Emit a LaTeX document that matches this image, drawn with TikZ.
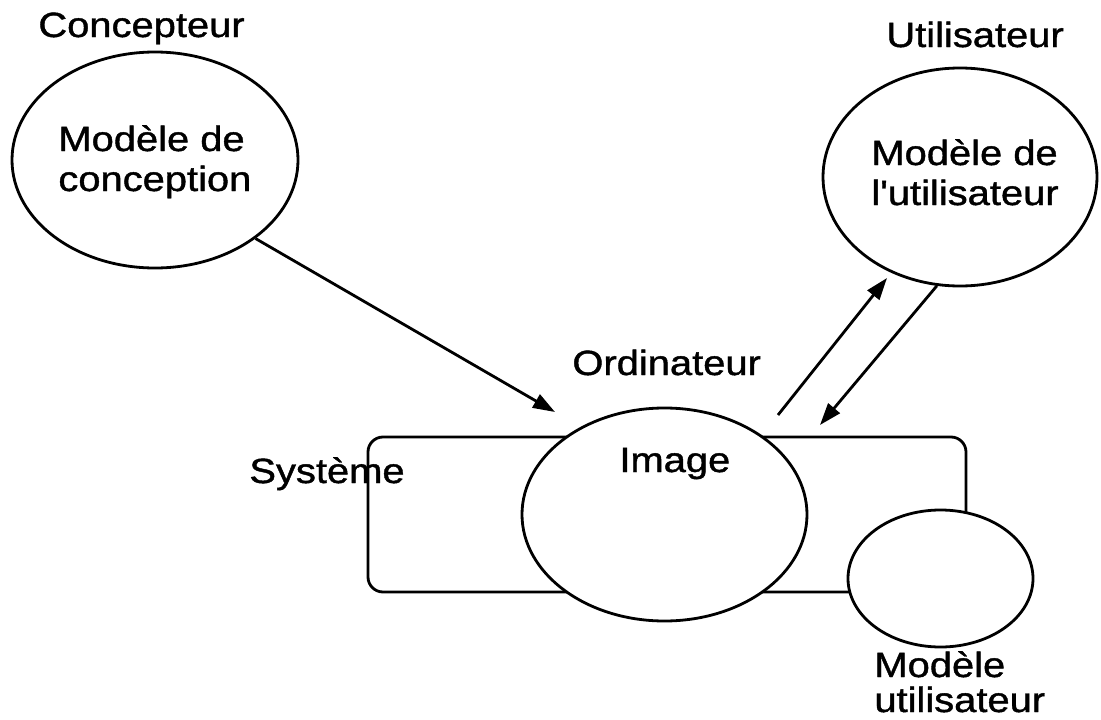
\documentclass[tikz,border=0pt]{standalone}
\usepackage{fontspec}
\newfontfamily\diagfont{Liberation Sans}[FakeStretch=1.14,FakeBold=1.2]
\usetikzlibrary{shapes.geometric,arrows.meta}
\begin{document}
\begin{tikzpicture}[x=1pt,y=-1pt,line width=2.8pt,
  oval/.style={ellipse,draw,fill=white,inner sep=0pt},
  lbl/.style={inner sep=0pt,anchor=base west,align=left,font=\diagfont\fontsize{35}{40}\selectfont},
  arr/.style={-{Triangle[length=22pt,width=15pt]}}]
\useasboundingbox (0,0) rectangle (1101,720);
% system box
\node[draw,rounded corners=15pt,minimum width=598pt,minimum height=155pt,inner sep=0pt] (sys) at (667,514.5) {};
% ellipses
\node[oval,minimum width=286pt,minimum height=216pt] (L) at (155,160) {};
\node[oval,minimum width=274pt,minimum height=218pt] (R) at (960,177) {};
\node[oval,minimum width=285pt,minimum height=213pt] (img) at (664.5,514.5) {};
\node[oval,minimum width=185pt,minimum height=137pt] (mu) at (940.5,578.5) {};
% labels
\node[lbl] (tconc) at (37,37) {Concepteur};
\node[lbl] (tutil) at (885,47) {Utilisateur};
\node[lbl] (tL) at (57,191) {Modèle de\\conception};
\node[lbl] (tR) at (870,205) {Modèle de\\l'utilisateur};
\node[lbl] (tord) at (571,375) {Ordinateur};
\node[lbl] (timg) at (618,472) {Image};
\node[lbl] (tsys) at (248,483) {Système};
\node[lbl,font=\diagfont\fontsize{35}{35}\selectfont] (tmu) at (873,712) {Modèle\\utilisateur};
% connectors
\coordinate (a1) at (555,412);
\coordinate (u1) at (778,415);
\coordinate (u2) at (887,278);
\coordinate (d2) at (820,425);
\draw[arr] (L.-38) -- (a1);
\draw[arr] (u1) -- (u2);
\draw[arr] (R.-102) -- (d2);
\end{tikzpicture}
\end{document}
